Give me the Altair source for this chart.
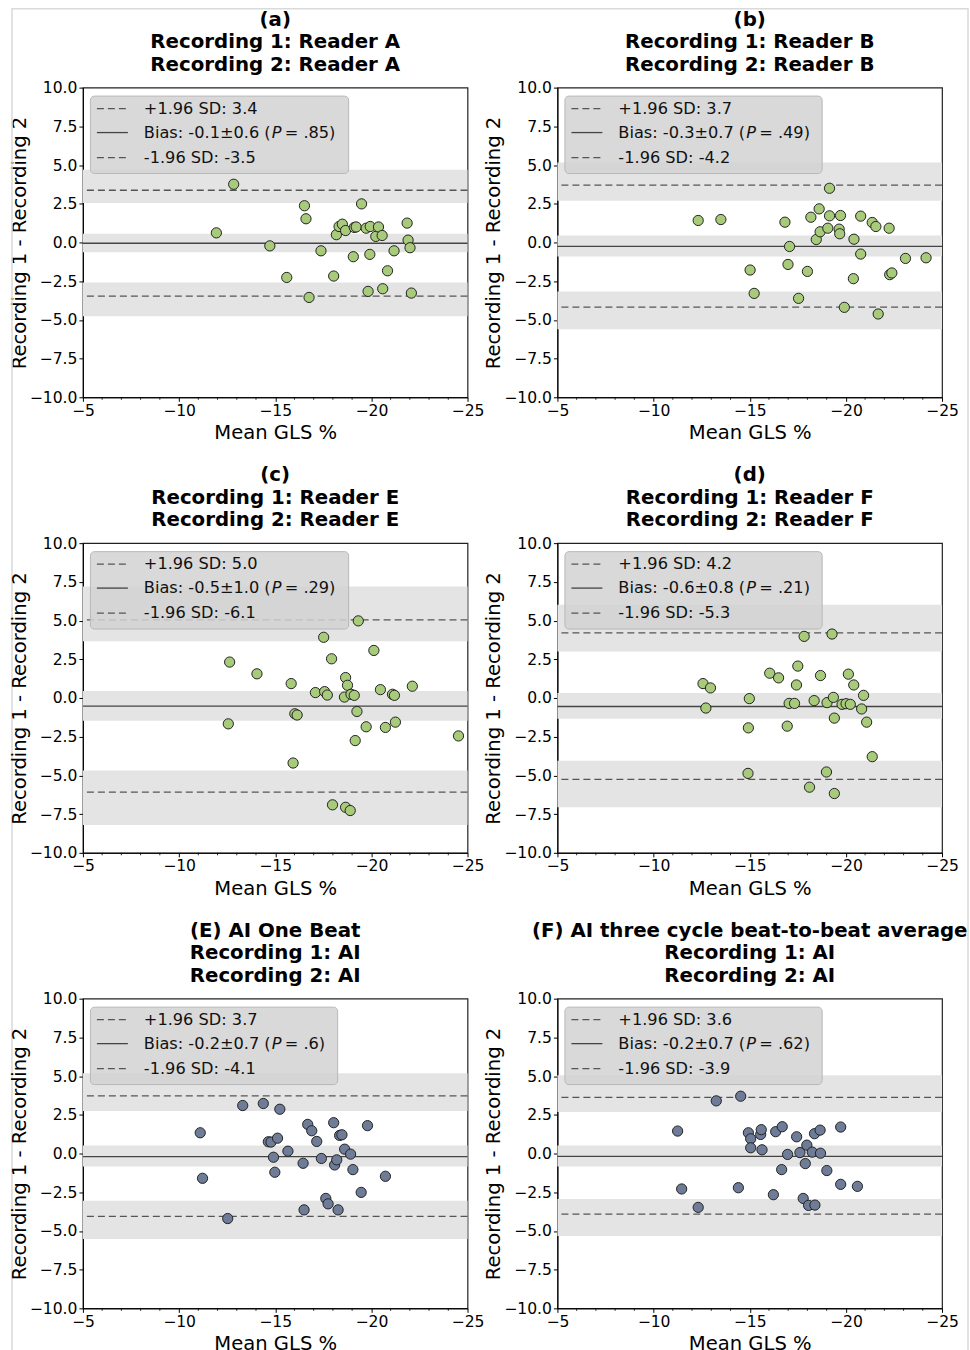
import altair as alt
import pandas as pd

# ---------------- data ----------------
a_x = [-12.84, -11.94, -14.72, -15.60, -16.52, -16.60, -16.76, -17.38, -18.04, -18.18, -18.32, -18.49, -18.66, -19.06, -19.11, -19.21, -19.49, -19.73, -19.83, -19.92, -19.94, -20.23, -20.37, -20.56, -20.59, -20.84, -21.18, -21.86, -21.91, -22.01, -22.08]
a_y = [3.76, 0.62, -0.22, -2.26, 2.37, 1.53, -3.55, -0.54, -2.17, 0.50, 1.03, 1.18, 0.77, -0.92, 0.97, 1.00, 2.49, 0.92, -3.16, -0.77, 1.03, 0.39, 1.00, 0.45, -2.99, -1.83, -0.54, 1.25, 0.15, -0.34, -3.27]

b_x = [-12.32, -13.50, -15.02, -15.23, -16.83, -16.99, -17.07, -17.54, -18.00, -18.18, -18.46, -18.61, -18.66, -19.06, -19.15, -19.15, -19.65, -19.68, -19.72, -19.92, -20.39, -20.42, -20.77, -20.77, -21.37, -21.56, -21.68, -22.25, -22.28, -22.39, -23.10, -24.17]
b_y = [1.42, 1.48, -1.78, -3.29, 1.31, -1.42, -0.26, -3.61, -1.87, 1.63, 0.19, 2.17, 0.69, 0.92, 3.50, 1.72, 0.86, 0.56, 1.74, -4.19, -2.34, 0.21, -0.75, 1.70, 1.29, 1.03, -4.62, 0.92, -2.08, -1.97, -1.03, -0.99]

c_x = [-12.63, -12.56, -14.05, -15.83, -15.93, -16.02, -16.14, -17.09, -17.52, -17.57, -17.71, -17.93, -17.98, -18.60, -18.66, -18.66, -18.76, -18.90, -18.94, -19.11, -19.16, -19.25, -19.32, -19.73, -20.13, -20.47, -20.73, -21.10, -21.20, -21.25, -22.13, -24.53]
c_y = [2.32, -1.67, 1.56, 0.93, -4.20, -1.02, -1.10, 0.35, 3.92, 0.41, 0.19, 2.53, -6.90, 0.06, 1.32, -7.06, 0.82, -7.27, 0.24, 0.17, -2.75, -0.87, 4.98, -1.86, 3.07, 0.54, -1.90, 0.24, 0.17, -1.56, 0.76, -2.45]

d_x = [-12.57, -12.96, -12.72, -14.98, -14.93, -14.91, -16.04, -16.50, -16.95, -17.05, -17.33, -17.43, -17.50, -17.83, -18.11, -18.35, -18.68, -18.99, -19.02, -19.28, -19.35, -19.40, -19.40, -19.80, -20.01, -20.13, -20.23, -20.41, -20.82, -20.92, -21.08, -21.37]
d_y = [0.93, 0.65, -0.65, -0.04, -1.93, -4.87, 1.60, 1.30, -1.82, -0.35, -0.35, 0.84, 2.06, 3.98, -5.76, -0.17, 1.45, -4.78, -0.30, 4.13, 0.04, -1.30, -6.17, -0.41, -0.37, 1.54, -0.41, 0.84, -0.71, 0.17, -1.56, -3.79]

e_x = [-11.10, -11.22, -12.53, -13.31, -14.38, -14.64, -14.78, -14.91, -14.98, -15.12, -15.24, -15.66, -16.45, -16.50, -16.69, -16.90, -17.16, -17.40, -17.63, -17.75, -18.04, -18.09, -18.20, -18.27, -18.35, -18.47, -18.61, -18.92, -19.04, -19.47, -19.80, -20.73]
e_y = [1.34, -1.60, -4.20, 3.10, 3.23, 0.76, 0.74, -0.24, -1.21, 0.99, 2.86, 0.15, -0.63, -3.64, 1.88, 1.47, 0.78, -0.32, -2.90, -3.25, 1.99, -0.74, -0.41, -3.64, 1.17, 1.21, 0.28, -0.04, -1.04, -2.51, 1.80, -1.47]

f_x = [-11.25, -11.46, -12.32, -13.26, -14.41, -14.53, -14.93, -15.05, -15.05, -15.57, -15.60, -15.64, -16.23, -16.35, -16.66, -16.69, -16.97, -17.44, -17.61, -17.78, -17.89, -17.97, -18.06, -18.25, -18.37, -18.39, -18.66, -18.68, -19.01, -19.73, -19.73, -20.60]
f_y = [1.45, -2.29, -3.48, 3.40, -2.21, 3.70, 1.34, 0.95, 0.37, 1.23, 1.54, 0.24, -2.66, 1.41, -1.04, 1.73, -0.06, 1.08, 0.06, -2.90, -0.65, 0.54, -3.35, 0.09, 1.28, -3.33, 1.51, 0.02, -1.10, 1.71, -1.99, -2.12]

title_line1 = ["(a)", "(b)", "(c)", "(d)", "(E) AI One Beat", "(F) AI three cycle beat-to-beat average"]
title_line2 = ["Recording 1: Reader A", "Recording 1: Reader B", "Recording 1: Reader E",
               "Recording 1: Reader F", "Recording 1: AI", "Recording 1: AI"]
title_line3 = ["Recording 2: Reader A", "Recording 2: Reader B", "Recording 2: Reader E",
               "Recording 2: Reader F", "Recording 2: AI", "Recording 2: AI"]
xs = [a_x, b_x, c_x, d_x, e_x, f_x]
ys = [a_y, b_y, c_y, d_y, e_y, f_y]

# limits of agreement lines: upper, bias, lower
upper_lines = [3.37, 3.70, 5.04, 4.20, 3.72, 3.62]
bias_lines = [-0.05, -0.25, -0.52, -0.55, -0.20, -0.18]
lower_lines = [-3.46, -4.18, -6.08, -5.26, -4.06, -3.92]

# confidence bands (lo, hi) for upper, bias and lower lines
upper_bands = [(2.55, 4.70), (2.69, 5.16), (3.66, 7.20), (3.00, 6.02), (2.75, 5.19), (2.68, 5.06)]
bias_bands = [(-0.63, 0.56), (-0.90, 0.45), (-1.47, 0.45), (-1.34, 0.32), (-0.84, 0.52), (-0.84, 0.52)]
lower_bands = [(-4.77, -2.58), (-5.60, -3.16), (-8.20, -4.68), (-7.06, -4.05), (-5.52, -3.05), (-5.32, -2.94)]

# legend texts
leg_upper = ["+1.96 SD: 3.4", "+1.96 SD: 3.7", "+1.96 SD: 5.0", "+1.96 SD: 4.2", "+1.96 SD: 3.7", "+1.96 SD: 3.6"]
leg_bias = ["Bias: -0.1±0.6 (", "Bias: -0.3±0.7 (", "Bias: -0.5±1.0 (", "Bias: -0.6±0.8 (", "Bias: -0.2±0.7 (", "Bias: -0.2±0.7 ("]
leg_p = ["= .85)", "= .49)", "= .29)", "= .21)", "= .6)", "= .62)"]
leg_lower = ["-1.96 SD: -3.5", "-1.96 SD: -4.2", "-1.96 SD: -6.1", "-1.96 SD: -5.3", "-1.96 SD: -4.1", "-1.96 SD: -3.9"]

point_colors = ["#a8cb7b", "#a8cb7b", "#a8cb7b", "#a8cb7b", "#6e7c98", "#6e7c98"]
legend_box_w = [266, 265, 266, 265, 255, 265]

x_ticks = [-5, -10, -15, -20, -25]
x_minor = [-6, -7, -8, -9, -11, -12, -13, -14, -16, -17, -18, -19, -21, -22, -23, -24]
y_ticks = [-10.0, -7.5, -5.0, -2.5, 0.0, 2.5, 5.0, 7.5, 10.0]

W, H = 385, 310
FONT = "DejaVu Sans"

x_scale = alt.Scale(domain=[-5, -25], nice=False, zero=False)
y_scale = alt.Scale(domain=[-10, 10], nice=False, zero=False)

common = dict(grid=False, tickSize=4, tickColor="black", domainColor="black", labelColor="black",
              titleColor="black", labelFontSize=15.6, titleFontSize=19.6, titleFontWeight="normal",
              labelOverlap=False, labelFlush=False, labelFont=FONT, titleFont=FONT)
xax = alt.Axis(values=x_ticks, title="Mean GLS %", labelPadding=2, titlePadding=5,
               labelExpr="replace(format(datum.value, 'd'), '-', '\u2212')", **common)
yax = alt.Axis(values=y_ticks, title="Recording 1 - Recording 2", labelPadding=2, titlePadding=0,
               labelExpr="replace(format(datum.value, '.1f'), '-', '\u2212')", **common)


def panel(i):
    pts = pd.DataFrame({"x": xs[i], "y": ys[i]})
    bands = pd.DataFrame({
        "lo": [upper_bands[i][0], bias_bands[i][0], lower_bands[i][0]],
        "hi": [upper_bands[i][1], bias_bands[i][1], lower_bands[i][1]],
    })
    dashed = pd.DataFrame({"v": [upper_lines[i], lower_lines[i]]})
    solid = pd.DataFrame({"v": [bias_lines[i]]})
    minor = pd.DataFrame({"t": x_minor})
    leg = pd.DataFrame({"u": [leg_upper[i]], "b": [leg_bias[i]], "p": [leg_p[i]], "l": [leg_lower[i]],
                        "t1": [title_line1[i]], "t2": [title_line2[i]], "t3": [title_line3[i]]})

    band_layer = alt.Chart(bands).mark_rect(color="#e4e4e4").encode(
        x=alt.value(0), x2=alt.value(W),
        y=alt.Y("lo:Q", scale=y_scale, axis=yax), y2="hi:Q")
    dash_layer = alt.Chart(dashed).mark_rule(color="#555555", strokeWidth=1.3, strokeDash=[7, 4]).encode(
        y=alt.Y("v:Q", scale=y_scale, axis=yax))
    solid_layer = alt.Chart(solid).mark_rule(color="#444444", strokeWidth=1.3).encode(
        y=alt.Y("v:Q", scale=y_scale, axis=yax))
    minor_layer = alt.Chart(minor).mark_rule(color="black", strokeWidth=0.8).encode(
        x=alt.X("t:Q", scale=x_scale, axis=xax), y=alt.value(H), y2=alt.value(H + 2.5))
    pt_layer = alt.Chart(pts).mark_circle(size=105, color=point_colors[i], opacity=1,
                                          stroke="#222222", strokeWidth=1).encode(
        x=alt.X("x:Q", scale=x_scale, axis=xax),
        y=alt.Y("y:Q", scale=y_scale, axis=yax))

    base = alt.Chart(leg)
    box = base.mark_rect(fill="#d2d2d2", fillOpacity=0.85, stroke="#b8b8b8", strokeWidth=1,
                         cornerRadius=4).encode(
        x=alt.value(7.5), x2=alt.value(legend_box_w[i]), y=alt.value(8.5), y2=alt.value(86))
    s1 = base.mark_rule(color="#555555", strokeWidth=1.3, strokeDash=[7, 4]).encode(
        x=alt.value(14), x2=alt.value(45), y=alt.value(21))
    s2 = base.mark_rule(color="#444444", strokeWidth=1.3).encode(
        x=alt.value(14), x2=alt.value(45), y=alt.value(45))
    s3 = base.mark_rule(color="#555555", strokeWidth=1.3, strokeDash=[7, 4]).encode(
        x=alt.value(14), x2=alt.value(45), y=alt.value(70))
    tkw = dict(align="left", baseline="middle", font=FONT, fontSize=16.2, color="#111111")
    t1 = base.mark_text(**tkw).encode(x=alt.value(61), y=alt.value(21), text="u:N")
    t2 = base.mark_text(**tkw).encode(x=alt.value(61), y=alt.value(45), text="b:N")
    t2p = base.mark_text(fontStyle="italic", **tkw).encode(x=alt.value(189), y=alt.value(45), text=alt.value("P"))
    t2r = base.mark_text(**tkw).encode(x=alt.value(202), y=alt.value(45), text="p:N")
    t3 = base.mark_text(**tkw).encode(x=alt.value(61), y=alt.value(70), text="l:N")

    hkw = dict(align="center", baseline="middle", font=FONT, fontSize=19.8, fontWeight="bold", color="black")
    h1 = base.mark_text(**hkw).encode(x=alt.value(W / 2), y=alt.value(-68), text="t1:N")
    h2 = base.mark_text(**hkw).encode(x=alt.value(W / 2), y=alt.value(-45.5), text="t2:N")
    h3 = base.mark_text(**hkw).encode(x=alt.value(W / 2), y=alt.value(-23), text="t3:N")

    layers = [band_layer, dash_layer, solid_layer, minor_layer, pt_layer,
              box, s1, s2, s3, t1, t2, t2p, t2r, t3, h1, h2, h3]
    if i == 0:
        frame = base.mark_rect(fill=None, stroke="#dadada", strokeWidth=1.5).encode(
            x=alt.value(-71), x2=alt.value(886), y=alt.value(-79), y2=alt.value(1272))
        layers = [frame] + layers

    return alt.layer(*layers).properties(width=W, height=H)


chart = alt.concat(*[panel(i) for i in range(6)], columns=2,
                   spacing=alt.RowColnumber(row=146, column=90), bounds="flush").properties(
    padding={"left": 8, "top": 6, "right": 0, "bottom": 0}
).configure(font=FONT).configure_view(stroke="#222222", strokeWidth=1.2)

chart.save("out.html", embed_options={"renderer": "svg", "actions": False})
